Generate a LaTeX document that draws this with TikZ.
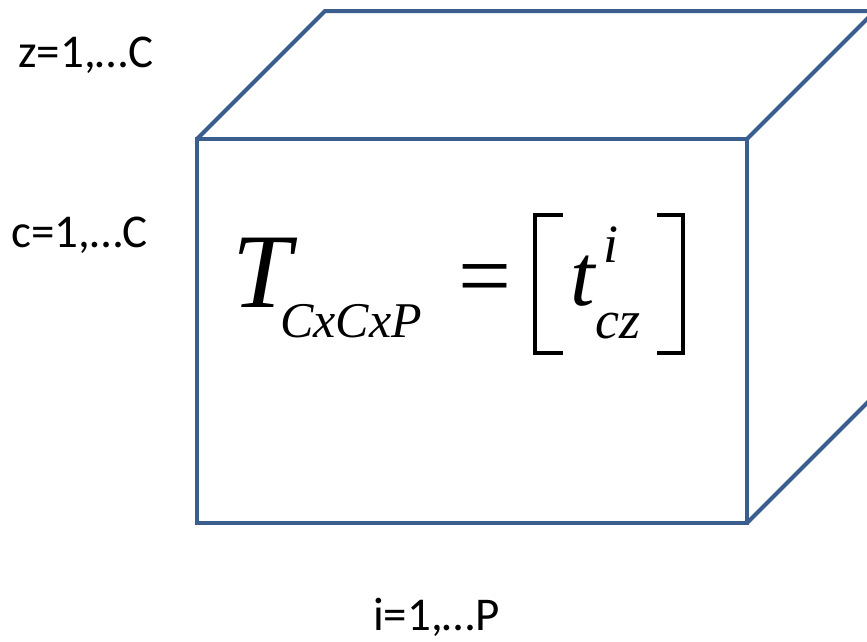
\documentclass[tikz,border=0pt]{standalone}
\usepackage{fontspec}
\setmainfont{Carlito}
\newfontfamily\mathserif{Liberation Serif}
\definecolor{cubeblue}{HTML}{3A5F8F}
\begin{document}
\begin{tikzpicture}[x=1pt,y=-1pt,
  edge/.style={draw=cubeblue,line width=4pt,line join=miter},
  lbl/.style={inner sep=0pt,anchor=base west,font=\fontsize{47}{47}\selectfont},
  mth/.style={inner sep=0pt,anchor=base west},
  brk/.style={draw=black,line width=4.5pt,line join=miter}]
\useasboundingbox (0,0) rectangle (867,641);
\begin{scope}
\clip (0,0) rectangle (867,641);
\coordinate (A) at (197,139);
\coordinate (B) at (747,139);
\coordinate (C) at (747,523);
\coordinate (D) at (197,523);
\coordinate (E) at (325,11);
\coordinate (F) at (875,11);
\coordinate (G) at (875,395);
\draw[edge] (A) -- (B) -- (C) -- (D) -- cycle;
\draw[edge] (A) -- (E) -- (F) -- (B);
\draw[edge] (F) -- (G) -- (C);
\end{scope}
\node[lbl] (zl) at (18,67) {z=1,\ldots C};
\node[lbl] (cl) at (11,247) {c=1,\ldots C};
\node[lbl] (il) at (373,630) {i=1,\ldots P};
\node[mth,font=\fontsize{106}{106}\selectfont\mathserif\itshape] (T) at (232,307) {T};
\node[mth,font=\fontsize{50}{50}\selectfont\mathserif\itshape] (Tsub) at (280,337) {CxCxP};
\node[mth,font=\fontsize{94}{94}\selectfont\mathserif] (eq) at (458,307) {=};
\draw[brk] (563,215) -- (535,215) -- (535,353) -- (563,353);
\draw[brk] (657,215) -- (683,215) -- (683,353) -- (657,353);
\node[mth,font=\fontsize{88}{88}\selectfont\mathserif\itshape] (t) at (570,305) {t};
\node[mth,font=\fontsize{54}{54}\selectfont\mathserif\itshape] (tsup) at (603,262) {i};
\node[mth,font=\fontsize{54}{54}\selectfont\mathserif\itshape] (tsub) at (595,338) {cz};
\end{tikzpicture}
\end{document}
